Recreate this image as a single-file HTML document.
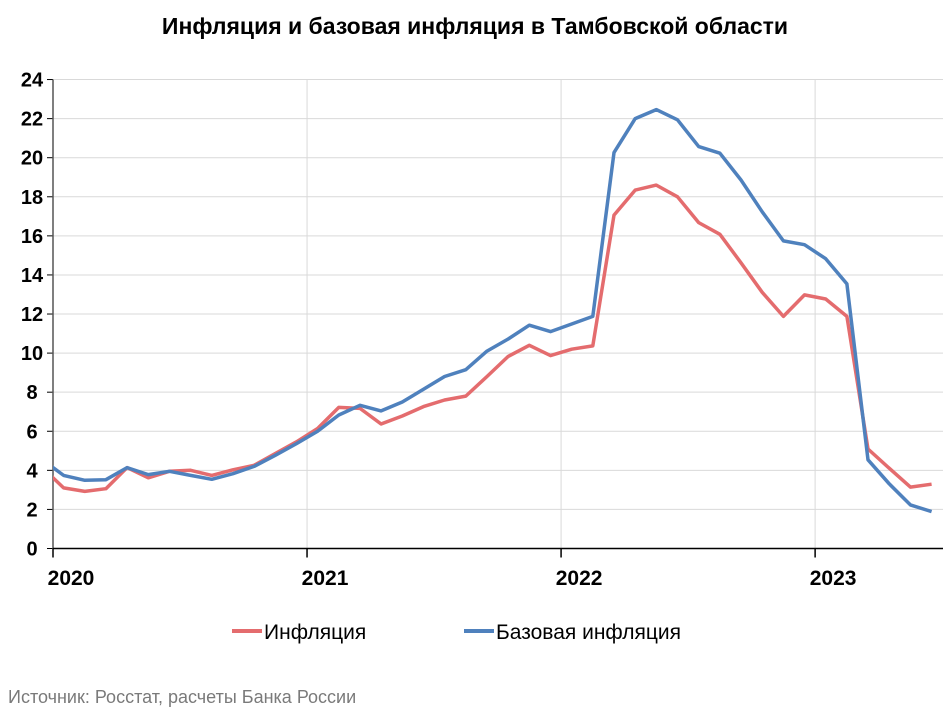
<!DOCTYPE html>
<html><head><meta charset="utf-8"><style>
body{margin:0;background:#fff;width:950px;height:712px;overflow:hidden;font-family:"Liberation Sans",sans-serif}
svg text{font-family:"Liberation Sans",sans-serif}
</style></head><body>
<svg id="chart" width="950" height="712" viewBox="0 0 950 712" xmlns="http://www.w3.org/2000/svg">
<text x="475" y="34" text-anchor="middle" font-size="23" font-weight="bold" fill="#000">Инфляция и базовая инфляция в Тамбовской области</text>
<defs><clipPath id="plotclip"><rect x="53" y="60" width="895" height="500"/></clipPath></defs>
<g id="grid"></g>
<g id="axes"></g>
<g id="series" clip-path="url(#plotclip)"></g>
<g>
<line x1="232" y1="631" x2="262" y2="631" stroke="#E46C6E" stroke-width="4"/>
<text x="264" y="639" font-size="21" fill="#000">Инфляция</text>
<line x1="464" y1="631" x2="494" y2="631" stroke="#4F81BD" stroke-width="4"/>
<text x="496" y="639" font-size="21" fill="#000">Базовая инфляция</text>
</g>
<text x="8" y="703" font-size="18" fill="#7a7a7a" font-family="DejaVu Sans, sans-serif">Источник: Росстат, расчеты Банка России</text>
</svg>
<script>
// months from Dec 2019 to Jun 2023
const inflation = [4.14,3.1,2.92,3.06,4.14,3.62,3.95,4.0,3.74,4.03,4.26,4.86,5.46,6.14,7.22,7.17,6.37,6.78,7.26,7.6,7.8,8.8,9.83,10.4,9.87,10.2,10.37,17.06,18.34,18.6,18.0,16.68,16.08,14.62,13.11,11.88,12.98,12.77,11.88,5.09,4.11,3.14,3.29];
const coreInflation = [4.54,3.74,3.49,3.52,4.14,3.78,3.95,3.74,3.54,3.83,4.2,4.77,5.37,6.0,6.83,7.33,7.04,7.5,8.15,8.8,9.15,10.1,10.72,11.43,11.1,11.49,11.88,20.26,22.0,22.46,21.94,20.57,20.23,18.86,17.23,15.74,15.55,14.83,13.54,4.54,3.31,2.23,1.89];
const yTicks = [0,2,4,6,8,10,12,14,16,18,20,22,24];
const yearLabels = ["2020","2021","2022","2023"];
const NS="http://www.w3.org/2000/svg";
const x0=53, monthW=21.17, y0=548.5, yUnit=19.54, xRight=943;
function xScale(i){return x0+(i-0.5)*monthW;} // i=0 is Dec 2019, points mid-month
function yScale(v){return y0-v*yUnit;}
function yearX(k){return x0+k*12*monthW;}
function mk(tag,attrs,parent){const e=document.createElementNS(NS,tag);for(const k in attrs)e.setAttribute(k,attrs[k]);parent.appendChild(e);return e;}
const grid=document.getElementById('grid'), axes=document.getElementById('axes'), series=document.getElementById('series');
yTicks.forEach(t=>{
  const y=yScale(t);
  if(t>0){const g=mk('line',{x1:x0,x2:xRight,y1:y,y2:y,stroke:'#d9d9d9','stroke-width':1},grid);
  
  }
  const tk=mk('line',{x1:x0-6,x2:x0,y1:y,y2:y,stroke:'#000','stroke-width':1},axes);
  
  
  const lb=mk('text',{x:32,y:y+7,'text-anchor':'middle','font-size':20,'font-weight':'bold',fill:'#000'},axes);
  lb.textContent=t;
  
  
});
yearLabels.forEach((yr,k)=>{
  const x=yearX(k);
  if(k>0){const g=mk('line',{x1:x,x2:x,y1:yScale(24),y2:y0,stroke:'#d9d9d9','stroke-width':1},grid);
  
  }
  const tk=mk('line',{x1:x,x2:x,y1:y0,y2:y0+9,stroke:'#000','stroke-width':1.5},axes);
  
  
  const lb=mk('text',{x:x+18,y:585,'text-anchor':'middle','font-size':21,'font-weight':'bold',fill:'#000'},axes);
  lb.textContent=yr;
  
  
});
const ya=mk('line',{x1:x0,x2:x0,y1:yScale(24),y2:y0,stroke:'#555','stroke-width':1.5},axes);


const xa=mk('line',{x1:x0,x2:xRight,y1:y0,y2:y0,stroke:'#000','stroke-width':1.5},axes);


function drawLine(vals,color,name){
  const pts=vals.map((v,i)=>xScale(i).toFixed(1)+','+yScale(v).toFixed(1)).join(' ');
  const p=mk('polyline',{points:pts,fill:'none',stroke:color,'stroke-width':3.5,'stroke-linejoin':'round'},series);
  
  
}
drawLine(inflation,'#E46C6E','inflation-line');
drawLine(coreInflation,'#4F81BD','core-inflation-line');
</script>
</body></html>
